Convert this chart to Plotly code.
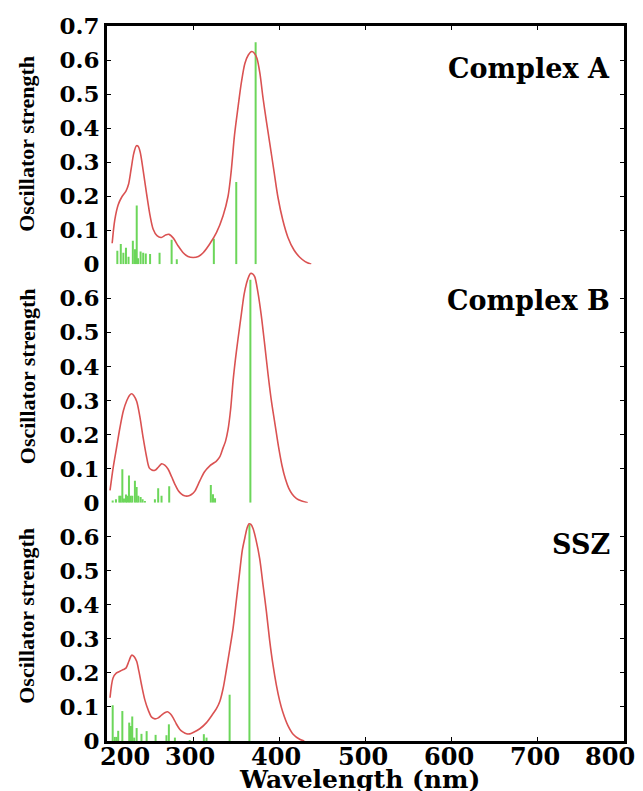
import plotly.graph_objects as go
from plotly.subplots import make_subplots

# ---------------- data ----------------
A_curve_wl = [206, 209, 213, 217, 222, 225, 228, 231, 234, 236, 238.5, 242, 246, 250, 253.6, 258, 263,
              268, 272, 277, 282.6, 288.4, 294, 300, 306, 311.6, 319, 327, 334.7, 340.5, 344, 348, 352,
              356, 360, 364, 368, 371, 374, 377.5, 381, 385, 389, 394, 398.4, 404, 410, 417, 424, 430, 437]
A_curve_f = [0.062, 0.13, 0.175, 0.197, 0.215, 0.235, 0.28, 0.325, 0.348, 0.347, 0.33, 0.275, 0.206, 0.143,
             0.103, 0.084, 0.079, 0.086, 0.088, 0.077, 0.054, 0.034, 0.023, 0.02, 0.023, 0.034, 0.059, 0.093,
             0.143, 0.2, 0.27, 0.38, 0.46, 0.535, 0.59, 0.615, 0.625, 0.62, 0.605, 0.56, 0.49, 0.42, 0.354,
             0.27, 0.197, 0.13, 0.079, 0.042, 0.02, 0.008, 0.0]
A_stick_wl = [212, 216, 219, 222, 225, 230, 232.5, 234.5, 236, 239, 242, 245, 250, 261, 275, 281, 324, 350, 372.5]
A_stick_f = [0.04, 0.06, 0.034, 0.049, 0.022, 0.069, 0.044, 0.173, 0.018, 0.038, 0.034, 0.032, 0.03, 0.034,
             0.072, 0.015, 0.075, 0.242, 0.652]

B_curve_wl = [203.5, 207, 211, 215, 219, 223, 226, 228.6, 231, 234.4, 238, 242, 245.5, 249, 252, 255.6, 259.5,
              263.3, 267, 271, 275, 278.8, 283, 286.5, 290, 294, 298, 302, 307.7, 313, 319.3, 323, 327, 331,
              334.7, 337.5, 340.5, 343.5, 346.3, 349, 352, 356, 359, 362, 364.5, 366.5, 369, 371.5, 375, 379,
              383, 387, 391, 395, 399, 403, 407, 411, 415, 420, 426, 433]
B_curve_f = [0.036, 0.1, 0.16, 0.22, 0.27, 0.3, 0.315, 0.32, 0.315, 0.298, 0.255, 0.19, 0.14, 0.102, 0.096, 0.095,
             0.104, 0.114, 0.11, 0.098, 0.076, 0.054, 0.034, 0.025, 0.02, 0.0195, 0.024, 0.034, 0.064, 0.09,
             0.108, 0.115, 0.122, 0.135, 0.161, 0.18, 0.215, 0.275, 0.357, 0.42, 0.48, 0.555, 0.61, 0.645,
             0.664, 0.673, 0.672, 0.663, 0.62, 0.551, 0.465, 0.375, 0.295, 0.23, 0.165, 0.11, 0.07, 0.042,
             0.025, 0.012, 0.005, 0.0]
B_stick_wl = [206.6, 210.4, 214.3, 215.8, 217.8, 219.7, 222, 223.5, 225.5, 227.4, 229.3, 232.4, 234.4, 236.3,
              239, 241.3, 244, 255.6, 259.4, 263.3, 272.2, 320.5, 323, 325.4, 366.4]
B_stick_f = [0.006, 0.01, 0.02, 0.02, 0.098, 0.012, 0.024, 0.02, 0.08, 0.02, 0.02, 0.064, 0.046, 0.02, 0.017,
             0.01, 0.005, 0.01, 0.042, 0.02, 0.048, 0.052, 0.025, 0.013, 0.655]

S_curve_wl = [203.5, 207, 211, 215, 219, 222, 225.5, 228.6, 231.5, 234.4, 237, 240, 244, 248, 251.8, 255.6,
              259.5, 263.3, 267, 270.3, 273.5, 276.8, 280.5, 284.6, 288.4, 292.3, 296, 300, 307.7, 315.5, 323,
              327, 331, 334.8, 338.6, 342.5, 346.3, 350, 354, 357, 360, 362.5, 364.9, 367, 369.5, 373, 377.2,
              381, 385, 388.8, 392.6, 396.5, 400.4, 404, 410, 416, 423.6, 429]
S_curve_f = [0.127, 0.185, 0.2, 0.205, 0.21, 0.214, 0.235, 0.252, 0.248, 0.234, 0.205, 0.166, 0.12, 0.09, 0.07,
             0.065, 0.068, 0.076, 0.083, 0.086, 0.08, 0.068, 0.05, 0.034, 0.026, 0.021, 0.021, 0.025, 0.036,
             0.054, 0.08, 0.095, 0.117, 0.155, 0.21, 0.27, 0.331, 0.41, 0.497, 0.56, 0.597, 0.625, 0.638,
             0.636, 0.624, 0.59, 0.536, 0.46, 0.38, 0.295, 0.224, 0.165, 0.118, 0.085, 0.045, 0.02, 0.005, 0.0]
S_stick_wl = [206.6, 209, 211, 213, 217.8, 225.8, 227.8, 229.3, 231.5, 234.4, 240, 246, 256.4, 269, 271.8,
              278.8, 296, 312.4, 315.5, 342.3, 365.3]
S_stick_f = [0.105, 0.012, 0.012, 0.03, 0.088, 0.054, 0.044, 0.072, 0.01, 0.038, 0.021, 0.029, 0.018, 0.017,
             0.049, 0.01, 0.003, 0.02, 0.01, 0.136, 0.636]

panel_labels = ["Complex A", "Complex B", "SSZ"]
x_ticks = [200, 300, 400, 500, 600, 700, 800]
y_ticks_top = [0, 0.1, 0.2, 0.3, 0.4, 0.5, 0.6, 0.7]
y_ticks_low = [0, 0.1, 0.2, 0.3, 0.4, 0.5, 0.6]
y_title = "Oscillator strength"
x_title = "Wavelength (nm)"

# ---------------- styling ----------------
RED = "rgb(218,82,82)"
GREEN = "rgb(108,214,90)"
BOLD_SERIF = "DejaVu Serif"
TIMES = "Liberation Serif"

fig = make_subplots(rows=3, cols=1, shared_xaxes=True, vertical_spacing=0.0)

panels = [
    (A_curve_wl, A_curve_f, A_stick_wl, A_stick_f),
    (B_curve_wl, B_curve_f, B_stick_wl, B_stick_f),
    (S_curve_wl, S_curve_f, S_stick_wl, S_stick_f),
]

def stick_xy(wl, f):
    xs, ys = [], []
    for w, v in zip(wl, f):
        xs += [w, w, None]
        ys += [0, v, None]
    return xs, ys

for i, (cw, cf, sw, sf) in enumerate(panels, start=1):
    sx, sy = stick_xy(sw, sf)
    fig.add_trace(go.Scatter(x=sx, y=sy, mode="lines", line=dict(color=GREEN, width=2),
                             showlegend=False, hoverinfo="skip"), row=i, col=1)
    fig.add_trace(go.Scatter(x=cw, y=cf, mode="lines", line=dict(color=RED, width=1.6, shape="spline",
                                                                smoothing=0.8),
                             showlegend=False), row=i, col=1)

for i in range(1, 4):
    ticks = y_ticks_top if i == 1 else y_ticks_low
    fig.update_yaxes(row=i, col=1, range=[0, 0.7], tickvals=ticks,
                     ticktext=[("0" if t == 0 else f"{t:.1f}") for t in ticks],
                     showline=True, linecolor="black", linewidth=3, mirror="ticks",
                     ticks="inside", ticklen=4, tickwidth=1, tickcolor="black",
                     showgrid=False, zeroline=False,
                     tickfont=dict(family=BOLD_SERIF, size=23, color="black", weight="bold"))

fig.update_xaxes(range=[200, 800], showgrid=False, zeroline=False, tickvals=x_ticks)
fig.update_xaxes(row=1, col=1, side="top", showline=True, linecolor="black", linewidth=3,
                 ticks="inside", ticklen=4, tickcolor="black", showticklabels=False)
fig.update_xaxes(row=2, col=1, showline=False, ticks="", showticklabels=False)
fig.update_xaxes(row=3, col=1, showline=True, linecolor="black", linewidth=3,
                 ticks="inside", ticklen=4, tickcolor="black", showticklabels=False)

# x tick labels (placed as text under the bottom axis, edge labels kept inside the figure)
for k, t in enumerate(x_ticks):
    anchor = "left" if k == 0 else ("right" if k == len(x_ticks) - 1 else "center")
    shift = -9 if k == 0 else (13 if k == len(x_ticks) - 1 else -3)
    fig.add_annotation(text=str(t), xref="x3", yref="paper", x=t, y=-0.021, xshift=shift,
                       xanchor=anchor, yanchor="middle", showarrow=False,
                       font=dict(family=BOLD_SERIF, size=24, color="black", weight="bold"))

# panel labels and axis titles
label_y = [0.940, 0.616, 0.275]
title_y = [0.835, 0.51, 0.175]
for i in range(3):
    fig.add_annotation(text=panel_labels[i], xref="paper", yref="paper", x=0.977, y=label_y[i],
                       xanchor="right", yanchor="middle", showarrow=False,
                       font=dict(family=BOLD_SERIF, size=27, color="black", weight="bold"))
    fig.add_annotation(text=y_title, xref="paper", yref="paper", x=-0.155, y=title_y[i],
                       xanchor="center", yanchor="middle", textangle=-90, showarrow=False,
                       font=dict(family=TIMES, size=22, color="black", weight="bold"))

fig.add_annotation(text=x_title, xref="paper", yref="paper", x=0.489, y=-0.054,
                   xanchor="center", yanchor="middle", showarrow=False,
                   font=dict(family=BOLD_SERIF, size=25, color="black", weight="bold"))

fig.update_layout(width=643, height=791, margin=dict(l=107, r=19, t=20, b=50),
                  paper_bgcolor="white", plot_bgcolor="white", showlegend=False)

fig.write_html("out.html", config={"displayModeBar": False},
               post_script="document.body.style.margin='0';document.body.style.overflow='hidden';")
